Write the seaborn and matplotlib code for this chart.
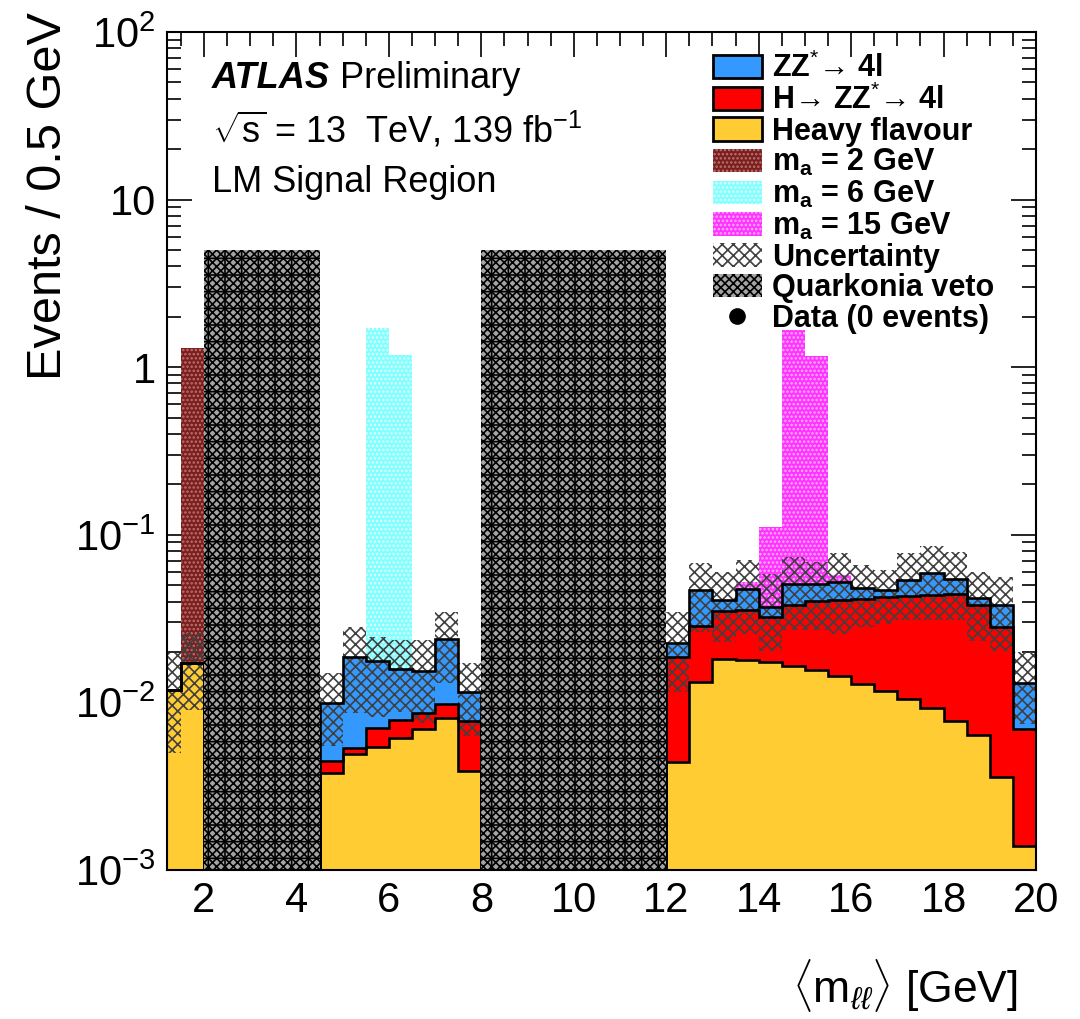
import numpy as np
import pandas as pd
import matplotlib
matplotlib.use("Agg")
import matplotlib.pyplot as plt
import seaborn as sns
from matplotlib.patches import Patch
from matplotlib.lines import Line2D
from matplotlib.ticker import MultipleLocator, LogLocator, NullFormatter

# 0.5 GeV bins, three windows between the quarkonia vetoes (low bin edges)
low_a = [1.0, 1.5]
low_b = [4.5, 5.0, 5.5, 6.0, 6.5, 7.0, 7.5]
low_c = [12.0, 12.5, 13.0, 13.5, 14.0, 14.5, 15.0, 15.5,
         16.0, 16.5, 17.0, 17.5, 18.0, 18.5, 19.0, 19.5]

# background yields (events / bin)
hf_a = [0.0119, 0.0172]
hzz_a = [0.0, 0.0]
zz_a = [0.0, 0.0]
hf_b = [0.0038, 0.0049, 0.0054, 0.0061, 0.0069, 0.0081, 0.0039]
hzz_b = [0.00065, 0.00046, 0.00167, 0.00173, 0.00175, 0.00173, 0.0038]
zz_b = [0.0055, 0.0134, 0.0105, 0.0081, 0.0067, 0.0140, 0.0039]
hf_c = [0.0044, 0.0133, 0.0182, 0.0178, 0.0174, 0.0166, 0.0156, 0.0144,
        0.0129, 0.0117, 0.0105, 0.0093, 0.0078, 0.0064, 0.0036, 0.0014]
hzz_c = [0.0142, 0.0151, 0.0170, 0.0180, 0.0150, 0.0214, 0.0247, 0.0263,
         0.0283, 0.0306, 0.0326, 0.0342, 0.0364, 0.0316, 0.0246, 0.0055]
zz_c = [0.0040, 0.0183, 0.0055, 0.0120, 0.0048, 0.0132, 0.0109, 0.0117,
        0.0067, 0.0044, 0.0106, 0.0159, 0.0100, 0.0037, 0.0098, 0.0062]

# uncertainty band (upper / lower edge)
unc_hi_a = [0.0197, 0.0259]
unc_lo_a = [0.0050, 0.0090]
unc_hi_b = [0.0149, 0.0283, 0.0247, 0.0236, 0.0236, 0.0348, 0.0171]
unc_lo_b = [0.0055, 0.0087, 0.0082, 0.0088, 0.0075, 0.0131, 0.0063]
unc_hi_c = [0.0347, 0.0683, 0.0603, 0.0708, 0.058, 0.074, 0.069, 0.0783,
            0.066, 0.062, 0.0776, 0.086, 0.0794, 0.0603, 0.0561, 0.020]
unc_lo_c = [0.0115, 0.0263, 0.0229, 0.0257, 0.0204, 0.0269, 0.0269, 0.0257,
            0.0282, 0.0295, 0.0309, 0.0309, 0.0309, 0.0234, 0.0204, 0.0074]

# signals, stacked on top of the background
sig2_low = [1.5]
sig2 = [1.29]
sig6_low = [5.5, 6.0]
sig6 = [1.70, 1.17]
sig15_low = [13.5, 14.0, 14.5, 15.0, 15.5]
sig15 = [0.0047, 0.074, 1.62, 1.11, 0.005]

veto_lo = [2.0, 8.0]
veto_hi = [4.5, 12.0]
veto_height = 5.0

c_zz = "#3399ff"
c_hzz = "#ff0000"
c_hf = "#ffcc33"
c_s2, h_s2 = "#7a1f1f", "#c07070"
c_s6, h_s6 = "#80ffff", "#e0ffff"
c_s15, h_s15 = "#ff33ff", "#ffb0ff"
c_unc = "#404040"
c_veto, h_veto = "#a4a4a4", "#000000"

sns.set_style("ticks")
plt.rcParams["font.family"] = ["Liberation Sans", "DejaVu Sans"]
plt.rcParams["mathtext.fontset"] = "custom"
plt.rcParams["mathtext.rm"] = "Liberation Sans"
plt.rcParams["mathtext.it"] = "Liberation Sans:italic"
plt.rcParams["mathtext.bf"] = "Liberation Sans:bold"
plt.rcParams["hatch.linewidth"] = 1.2
for key in ["text.color", "axes.labelcolor", "xtick.color", "ytick.color",
            "axes.edgecolor"]:
    plt.rcParams[key] = "black"

windows = [
    (low_a, hf_a, hzz_a, zz_a, unc_hi_a, unc_lo_a),
    (low_b, hf_b, hzz_b, zz_b, unc_hi_b, unc_lo_b),
    (low_c, hf_c, hzz_c, zz_c, unc_hi_c, unc_lo_c),
]

rows = []
for lows, hf, hzz, zz, _, _ in windows:
    for lo, a, b, c in zip(lows, hf, hzz, zz):
        rows.append((lo + 0.25, "HF", a))
        rows.append((lo + 0.25, "H", b))
        rows.append((lo + 0.25, "ZZ", c))
df = pd.DataFrame(rows, columns=["mll", "process", "events"])

fig = plt.figure(figsize=(10.8, 10.19), dpi=100)
ax = fig.add_axes([0.1546, 0.1462, 0.8047, 0.8224])

bin_edges = [1.0 + 0.5 * i for i in range(39)]
sns.histplot(data=df, x="mll", weights="events", hue="process",
             hue_order=["ZZ", "H", "HF"], palette=[c_zz, c_hzz, c_hf],
             multiple="stack", bins=bin_edges,
             element="step", fill=True, alpha=1, linewidth=0,
             legend=False, ax=ax, zorder=1)

total = {}
for lows, hf, hzz, zz, uhi, ulo in windows:
    edges = list(lows) + [lows[-1] + 0.5]
    s1 = np.array(hf)
    s2 = s1 + np.array(hzz)
    s3 = s2 + np.array(zz)
    for lo, t in zip(lows, s3):
        total[lo] = t
    for s in (s1, s2, s3):
        ax.stairs(s, edges, baseline=1e-6, fill=False, color="k",
                  linewidth=1.9, zorder=4)

for lows, vals, fc, hc in [(sig2_low, sig2, c_s2, h_s2),
                           (sig6_low, sig6, c_s6, h_s6),
                           (sig15_low, sig15, c_s15, h_s15)]:
    base = [total[lo] for lo in lows]
    ax.bar(lows, vals, width=0.5, align="edge", bottom=base,
           facecolor=fc, edgecolor=hc, hatch="....", linewidth=0, zorder=2)

# uncertainty band on top of the signals
for lows, hf, hzz, zz, uhi, ulo in windows:
    edges = list(lows) + [lows[-1] + 0.5]
    ax.stairs(uhi, edges, baseline=ulo, fill=True, facecolor="none",
              edgecolor=c_unc, hatch="xxx", linewidth=0, zorder=3)

widths = [h - l for l, h in zip(veto_lo, veto_hi)]
ax.bar(veto_lo, [veto_height] * 2, width=widths, align="edge", bottom=1e-4,
       facecolor=c_veto, edgecolor=h_veto, hatch="xxxx", linewidth=0, zorder=5)
ax.bar(veto_lo, [veto_height] * 2, width=widths, align="edge", bottom=1e-4,
       facecolor="none", edgecolor="k", hatch="+", linewidth=0, zorder=5)

ax.set_yscale("log")
ax.set_ylim(1e-3, 1e2)
ax.set_xlim(1.2, 20)

ax.set_yticks([1e-3, 1e-2, 1e-1, 1, 10, 100])
ax.set_yticklabels([r"$\mathregular{10^{-3}}$", r"$\mathregular{10^{-2}}$",
                    r"$\mathregular{10^{-1}}$", "1", "10",
                    r"$\mathregular{10^{2}}$"])
ax.yaxis.set_minor_locator(LogLocator(base=10, subs=np.arange(2, 10)))
ax.yaxis.set_minor_formatter(NullFormatter())
ax.xaxis.set_major_locator(MultipleLocator(2))
ax.xaxis.set_minor_locator(MultipleLocator(0.5))
ax.tick_params(which="both", direction="in", top=True, right=True,
               labelsize=30, width=1.2, pad=8, colors="black")
ax.tick_params(which="major", length=18)
ax.tick_params(which="minor", length=10)
for sp in ax.spines.values():
    sp.set_linewidth(1.5)
    sp.set_color("black")
    sp.set_zorder(6)

ax.set_ylabel("Events / 0.5 GeV", fontsize=35, loc="top")
ax.yaxis.set_label_coords(-0.11, 1.024)
ax.set_xlabel(r"$\langle\mathregular{m}_{\ell\ell}\rangle$ [GeV]",
              fontsize=32, loc="right")
ax.xaxis.label.set_va("center")
ax.xaxis.set_label_coords(0.979, -0.138)

ax.text(0.052, 0.945, "ATLAS", fontsize=26, weight="bold", style="italic",
        va="center", transform=ax.transAxes)
ax.text(0.199, 0.945, "Preliminary", fontsize=26, va="center",
        transform=ax.transAxes)
ax.text(0.052, 0.883, r"$\sqrt{\mathregular{s}}$ = 13  TeV, 139 fb$^{-1}$",
        fontsize=26, va="center", transform=ax.transAxes)
ax.text(0.052, 0.820, "LM Signal Region", fontsize=26, va="center",
        transform=ax.transAxes)

handles = [
    Patch(facecolor=c_zz, edgecolor="k", linewidth=2),
    Patch(facecolor=c_hzz, edgecolor="k", linewidth=2),
    Patch(facecolor=c_hf, edgecolor="k", linewidth=2),
    Patch(facecolor=c_s2, edgecolor=h_s2, hatch="....", linewidth=0),
    Patch(facecolor=c_s6, edgecolor=h_s6, hatch="....", linewidth=0),
    Patch(facecolor=c_s15, edgecolor=h_s15, hatch="....", linewidth=0),
    Patch(facecolor="white", edgecolor=c_unc, hatch="xxx", linewidth=0),
    Patch(facecolor=c_veto, edgecolor=h_veto, hatch="xxxx", linewidth=0),
    Line2D([], [], marker="o", color="k", linestyle="none", markersize=11),
]
labels = [
    "ZZ$^{*}$→ 4l",
    "H→ ZZ$^{*}$→ 4l",
    "Heavy flavour",
    r"m$_{\mathregular{a}}$ = 2 GeV",
    r"m$_{\mathregular{a}}$ = 6 GeV",
    r"m$_{\mathregular{a}}$ = 15 GeV",
    "Uncertainty",
    "Quarkonia veto",
    "Data (0 events)",
]
leg = ax.legend(handles, labels, loc="upper left", bbox_to_anchor=(0.628, 0.975),
                frameon=False, prop={"weight": "bold", "size": 22},
                handlelength=1.6, handleheight=0.8, handletextpad=0.35,
                labelspacing=0.02, borderpad=0, borderaxespad=0)
leg.set_zorder(7)

fig.savefig("out.png", dpi=100)
